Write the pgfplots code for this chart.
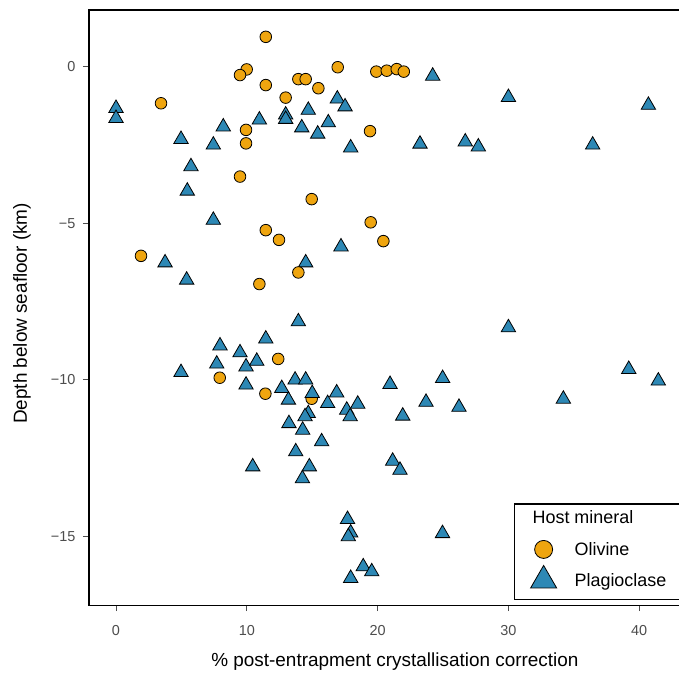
\documentclass[border=0pt]{standalone}
\usepackage{pgfplots}
\pgfplotsset{compat=1.18}
\usepackage{fontspec}
\setmainfont{Liberation Sans}
\definecolor{oliv}{HTML}{EFA50F}
\definecolor{plag}{HTML}{2D88B5}
\definecolor{tickgray}{HTML}{4D4D4D}
\pgfplotstableread{
x y
11.45 0.95
9.99 -0.09
9.48 -0.27
16.95 -0.02
19.9 -0.16
20.7 -0.13
21.46 -0.08
22.0 -0.16
11.45 -0.59
13.94 -0.40
14.5 -0.40
15.47 -0.69
12.97 -0.99
3.44 -1.17
19.42 -2.06
9.94 -2.02
9.94 -2.45
9.48 -3.51
14.96 -4.23
11.45 -5.22
12.46 -5.53
19.47 -4.97
1.91 -6.04
10.96 -6.94
13.94 -6.57
20.44 -5.57
12.4 -9.33
7.93 -9.93
11.42 -10.44
14.96 -10.6
}\olivine
\pgfplotstableread{
x y
0 -1.33
0 -1.65
4.97 -2.32
8.2 -1.92
7.44 -2.5
5.73 -3.19
5.45 -3.97
10.96 -1.70
12.97 -1.54
12.97 -1.68
14.7 -1.39
14.2 -1.95
15.42 -2.15
16.23 -1.79
16.92 -1.03
17.51 -1.28
17.94 -2.59
7.44 -4.9
24.21 -0.30
30.0 -0.98
40.7 -1.23
23.24 -2.47
26.7 -2.4
27.7 -2.56
36.44 -2.5
3.75 -6.26
5.4 -6.81
14.5 -6.26
17.2 -5.75
13.94 -8.14
11.45 -8.69
7.95 -8.91
9.48 -9.13
7.7 -9.49
9.94 -9.58
10.76 -9.40
4.97 -9.76
9.94 -10.16
12.67 -10.27
13.69 -10.0
14.5 -10.0
13.18 -10.64
16.87 -10.41
16.18 -10.75
18.48 -10.77
17.64 -10.96
17.9 -11.17
14.7 -11.07
14.45 -11.17
13.22 -11.39
14.27 -11.6
15.72 -11.97
13.74 -12.29
10.45 -12.77
14.78 -12.77
14.25 -13.15
30.0 -8.33
39.2 -9.66
41.46 -10.03
34.2 -10.61
20.95 -10.14
24.97 -9.95
23.7 -10.71
26.22 -10.87
21.92 -11.15
21.15 -12.59
21.71 -12.88
24.96 -14.9
17.7 -14.45
17.94 -14.88
17.76 -15.0
18.9 -15.96
19.55 -16.12
17.94 -16.33
}\plagA
\pgfplotstableread{
x y
15.0 -10.43
}\plagB
\begin{document}
\begin{tikzpicture}
\begin{axis}[
  at={(0,0)}, anchor=south west,
  scale only axis, width=596.5bp, height=595.3bp,
  xmin=-2.073, xmax=43.53, ymin=-17.19, ymax=1.81,
  xtick={0,10,20,30,40}, ytick={-15,-10,-5,0},
  yticklabels={−15,−10,−5,0},
  tick align=outside, tick pos=left, major tick length=6bp,
  every tick/.style={tickgray, line width=1bp},
  axis line style={line width=1.4bp, black},
  ticklabel style={font=\fontsize{14.5}{16}\selectfont, text=tickgray},
  xticklabel style={yshift=-10.5bp},
  yticklabel style={xshift=-4bp},
  /pgf/number format/assume math mode=true,
  xlabel={\% post-entrapment crystallisation correction},
  ylabel={Depth below seafloor (km)},
  label style={font=\fontsize{19}{21}\selectfont},
  xlabel style={at={(axis description cs:0.513,-0.0954)}, anchor=center},
  ylabel style={at={(axis description cs:-0.1122,0.49)}, anchor=center, rotate=0},
  legend cell align=left,
  legend image code/.code={\path[draw=none] (-14bp,-15bp) rectangle (14bp,16bp); \draw[#1] plot coordinates {(0bp,0bp)};},
  legend style={at={(0.7127,0.0087)}, anchor=south west, draw=black, line width=1.2bp,
    font=\fontsize{18}{20}\selectfont, inner xsep=15bp, inner ysep=4bp,
    nodes={inner sep=0pt, line width=0.8bp},
    /tikz/every odd column/.style={column sep=17bp}},
]
\addlegendimage{empty legend}
\addlegendentry{\hspace*{-42bp}\raisebox{8bp}{\rule{0pt}{16bp}Host mineral}}
\addlegendimage{only marks, mark=*, mark size=9bp, mark options={fill=oliv, draw=black, line width=0.8bp}}
\addlegendentry{Olivine}
\addlegendimage{only marks, mark=triangle*, mark size=15bp, mark options={fill=plag, draw=black, line width=0.8bp}}
\addlegendentry{Plagioclase}
\addplot[forget plot, only marks, mark=triangle*, mark size=8.3bp, mark options={fill=plag, draw=black, line width=0.8bp}] table {\plagA};
\addplot[forget plot, only marks, mark=*, mark size=5.8bp, mark options={fill=oliv, draw=black, line width=0.8bp}] table {\olivine};
\addplot[forget plot, only marks, mark=triangle*, mark size=8.3bp, mark options={fill=plag, draw=black, line width=0.8bp}] table {\plagB};
\end{axis}
\pgfresetboundingbox
\useasboundingbox (-88.9bp,-74.8bp) rectangle (590.1bp,605.2bp);
\end{tikzpicture}
\end{document}
